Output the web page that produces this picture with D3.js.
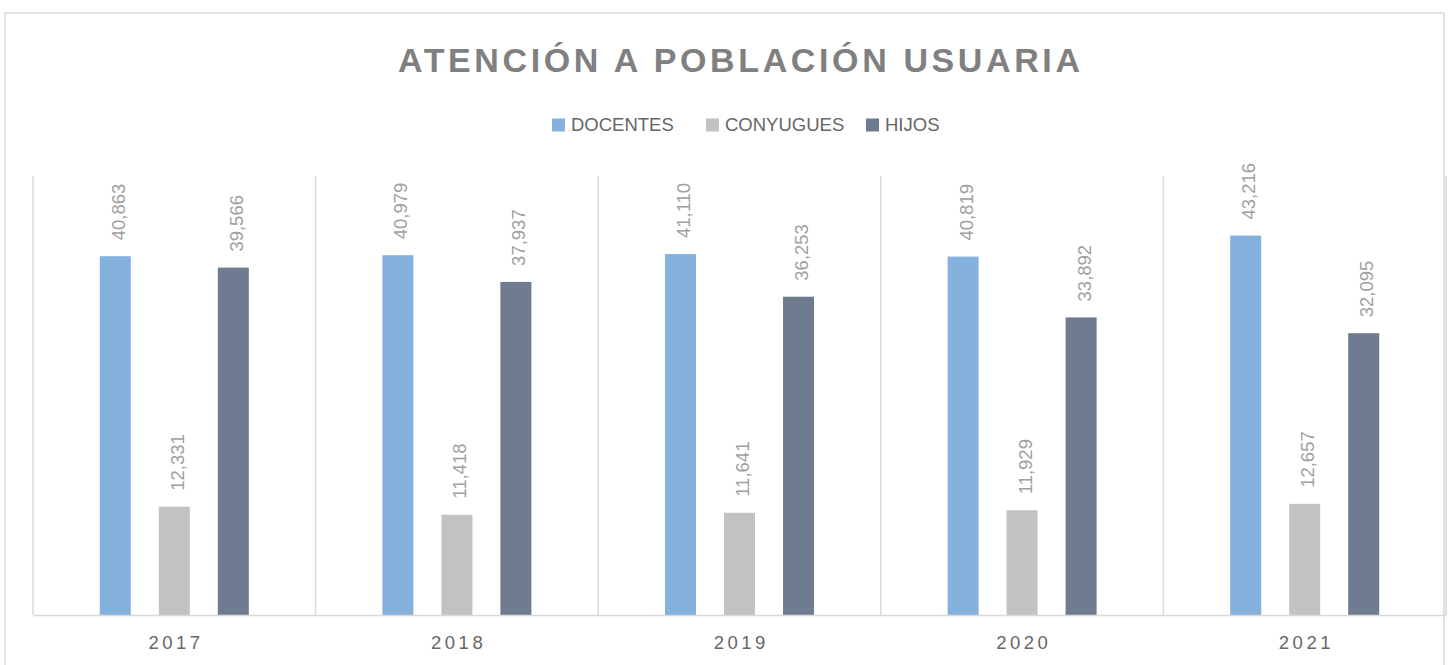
<!DOCTYPE html>
<html><head><meta charset="utf-8">
<script src="https://cdn.jsdelivr.net/npm/d3@7"></script>
<style>
html,body{margin:0;padding:0;background:#fff;}
svg{display:block;font-family:"Liberation Sans",Arial,sans-serif;}
</style></head>
<body><svg id="c" width="1449" height="665"></svg>
<script>
const title = "ATENCIÓN A POBLACIÓN USUARIA";
const years = ["2017","2018","2019","2020","2021"];
const seriesNames = ["DOCENTES","CONYUGUES","HIJOS"];
const docentes = [40863, 40979, 41110, 40819, 43216];
const conyugues = [12331, 11418, 11641, 11929, 12657];
const hijos = [39566, 37937, 36253, 33892, 32095];
const colors = ["#84b1dd","#c3c2c0","#6f7b8e"];
const yMax = 50000;

const values = [docentes, conyugues, hijos];
const svg = d3.select("#c");

// chart border
svg.append("rect").attr("x",5).attr("y",13).attr("width",1439).attr("height",700)
  .attr("fill","none").attr("stroke","#d9d9d9").attr("stroke-width",1.5);

const plot = {left:33, right:1446, top:176, bottom:615};
const x0 = d3.scaleBand().domain(years).range([plot.left, plot.right]).paddingInner(0).paddingOuter(0);
const x1 = d3.scaleBand().domain(seriesNames).range([0, x0.bandwidth()]).paddingInner(28/59).paddingOuter(1.132);
const y = d3.scaleLinear().domain([0, yMax]).range([plot.bottom, plot.top]);

// vertical category separators
const seps = years.map(d => x0(d)).concat([x0(years[years.length-1]) + x0.bandwidth()]);
svg.append("g").selectAll("line").data(seps).join("line")
  .attr("x1", d=>d).attr("x2", d=>d).attr("y1", plot.top).attr("y2", plot.bottom)
  .attr("stroke","#d9d9d9").attr("stroke-width",1.5);

// bars
const g = svg.append("g");
seriesNames.forEach((s, si) => {
  const data = years.map((yr, i) => ({yr, v: values[si][i]}));
  g.append("g").selectAll("rect").data(data).join("rect")
    .attr("x", d => x0(d.yr) + x1(s))
    .attr("y", d => y(d.v))
    .attr("width", x1.bandwidth())
    .attr("height", d => y(0) - y(d.v))
    .attr("fill", colors[si]);
  g.append("g").selectAll("text").data(data).join("text")
    .attr("transform", d => `translate(${x0(d.yr) + x1(s) + x1.bandwidth()/2 + 3},${y(d.v) - 16}) rotate(-90)`)
    .attr("text-anchor","start")
    .attr("dy","0.35em")
    .attr("font-size","18.5px")
    .attr("fill","#a0a0a0")
    .text(d => d3.format(",")(d.v));
});

// x axis
const xAxis = d3.axisBottom(x0).tickSize(0).tickPadding(21);
const ax = svg.append("g").attr("transform",`translate(0,${plot.bottom})`).call(xAxis);
ax.select(".domain").attr("stroke","#d9d9d9").attr("stroke-width",1.5);
ax.selectAll("text").attr("font-family","Liberation Sans, Arial, sans-serif")
  .attr("font-size","18.5px").attr("fill","#666666").attr("letter-spacing","3.5px")
  .attr("dx","1.7px");

// title
svg.append("text").attr("x",739).attr("y",72).attr("text-anchor","middle")
  .attr("font-size","34px").attr("font-weight","bold").attr("fill","#808080")
  .attr("textLength",682).attr("lengthAdjust","spacing")
  .text(title);

// legend
const legendX = [552, 706, 866];
const lg = svg.append("g");
seriesNames.forEach((s, i) => {
  lg.append("rect").attr("x", legendX[i]).attr("y",118.5).attr("width",13).attr("height",13).attr("fill",colors[i]);
  lg.append("text").attr("x", legendX[i]+19).attr("y",131).attr("font-size","18.5px").attr("fill","#666666").text(s);
});
</script></body></html>
